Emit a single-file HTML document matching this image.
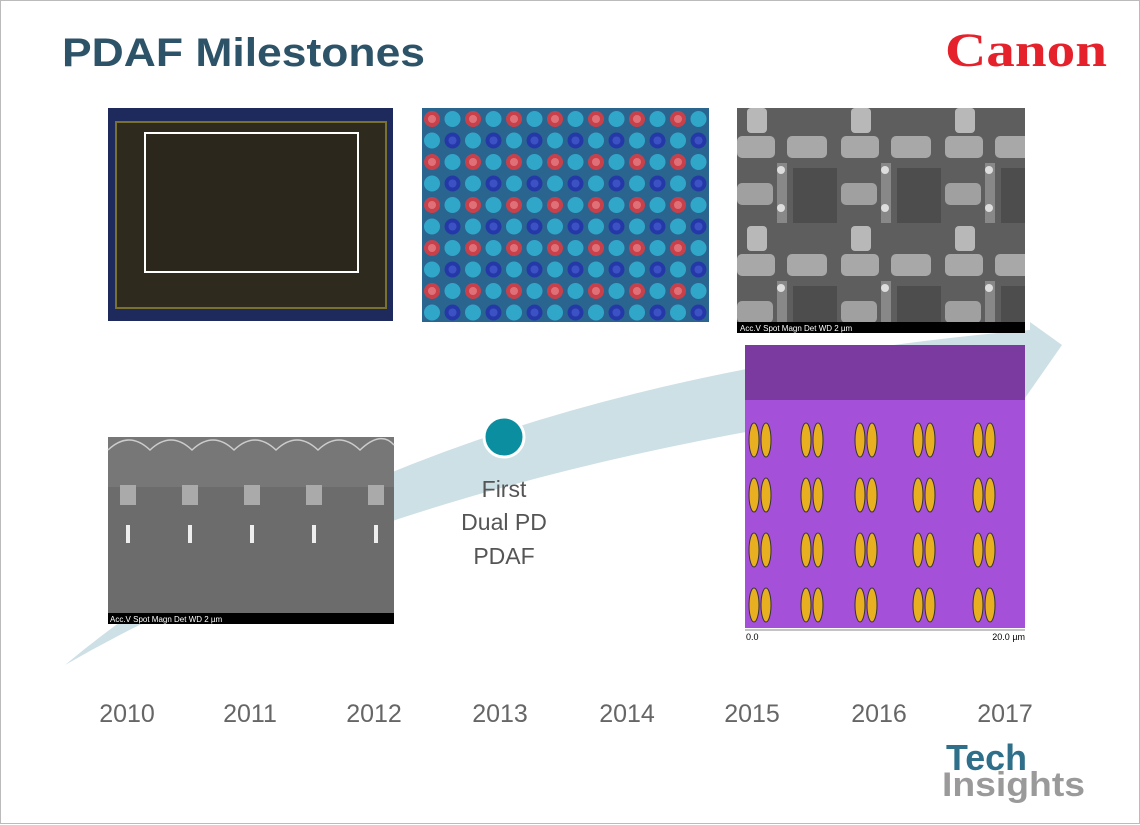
<!DOCTYPE html>
<html><head><meta charset="utf-8">
<style>
html,body{margin:0;padding:0;background:#fff;}
svg{display:block;font-family:"Liberation Sans",sans-serif;}
</style></head>
<body>
<svg id="s" width="1140" height="825" viewBox="0 0 1140 825">
<defs>
<pattern id="bayer" x="422" y="108" width="41" height="43" patternUnits="userSpaceOnUse">
<rect width="41" height="43" fill="#2a6590"/>
<circle cx="10" cy="11" r="8" fill="#c8404a"/><circle cx="10" cy="11" r="4" fill="#e07078"/>
<circle cx="30.5" cy="11" r="8" fill="#30a6c8"/>
<circle cx="10" cy="32.5" r="8" fill="#30a6c8"/>
<circle cx="30.5" cy="32.5" r="8" fill="#2538a8"/><circle cx="30.5" cy="32.5" r="4" fill="#3c52c4"/>
</pattern>
<pattern id="sem" x="737" y="108" width="104" height="118" patternUnits="userSpaceOnUse">
<rect width="104" height="118" fill="#5e5e5e"/>
<rect x="10" y="0" width="20" height="25" rx="4" fill="#b8b8b8"/>
<rect x="0" y="28" width="38" height="22" rx="5" fill="#a8a8a8"/>
<rect x="50" y="28" width="40" height="22" rx="5" fill="#a8a8a8"/>
<rect x="40" y="55" width="10" height="60" fill="#888"/>
<rect x="0" y="75" width="36" height="22" rx="5" fill="#a0a0a0"/>
<circle cx="44" cy="62" r="4" fill="#ddd"/><circle cx="44" cy="100" r="4" fill="#ddd"/>
<rect x="56" y="60" width="44" height="55" fill="#4d4d4d"/>
</pattern>
</defs>
<rect x="0.5" y="0.5" width="1139" height="823" fill="#fff" stroke="#bbb"/>
<text x="62" y="66" font-size="40" font-weight="bold" fill="#2c5368" textLength="363" lengthAdjust="spacingAndGlyphs">PDAF Milestones</text>
<text x="945" y="66" font-size="48" font-weight="bold" fill="#e5222b" font-family="Liberation Serif,serif" textLength="162" lengthAdjust="spacingAndGlyphs">Canon</text>

<path d="M65,665 Q400,385 1030,330 L1030,322 L1062,345 L1025,398 L1025,392 Q430,455 65,665 Z" fill="#cde0e5"/>

<g>
<rect x="108" y="108" width="285" height="213" fill="#1f2a5c"/>
<rect x="116" y="122" width="270" height="186" fill="#2e2a1e" stroke="#7a7030" stroke-width="2"/>
<rect x="145" y="133" width="213" height="139" fill="#2b271c" stroke="#fff" stroke-width="2"/>
</g>
<rect x="422" y="108" width="287" height="214" fill="url(#bayer)"/>
<g>
<rect x="737" y="108" width="288" height="214" fill="url(#sem)"/>
<rect x="737" y="322" width="288" height="11" fill="#000"/>
<text x="740" y="331" font-size="8" fill="#fff">Acc.V   Spot  Magn   Det   WD          2 µm</text>
</g>
<g>
<rect x="108" y="437" width="286" height="176" fill="#6c6c6c"/>
<rect x="108" y="437" width="286" height="50" fill="#777"/>
<path d="M108,450 Q129,430 150,450 Q171,430 192,450 Q213,430 234,450 Q255,430 276,450 Q297,430 318,450 Q339,430 360,450 Q381,430 394,445" fill="none" stroke="#ccc" stroke-width="1.5"/>
<g id="cs"></g>
<rect x="108" y="613" width="286" height="11" fill="#000"/>
<text x="110" y="622" font-size="8" fill="#fff">Acc.V   Spot  Magn   Det   WD          2 µm</text>
</g>
<g>
<rect x="745" y="345" width="280" height="283" fill="#a450d8"/>
<rect x="745" y="345" width="280" height="55" fill="#7a3aa0"/>
<g id="blobs"></g>
<line x1="745" y1="630" x2="1025" y2="630" stroke="#888"/>
<text x="746" y="640" font-size="9" fill="#000">0.0</text>
<text x="1025" y="640" font-size="9" fill="#000" text-anchor="end">20.0 µm</text>
</g>

<circle cx="504" cy="437" r="20" fill="#0b8fa0" stroke="#fff" stroke-width="3"/>
<g font-size="23" fill="#555" text-anchor="middle">
<text x="504" y="497">First</text><text x="504" y="530">Dual PD</text><text x="504" y="564">PDAF</text>
</g>
<g id="years"></g>
<text x="946" y="770" font-size="36" font-weight="bold" fill="#2f6f8a" textLength="81" lengthAdjust="spacingAndGlyphs">Tech</text>
<text x="942" y="796" font-size="34" font-weight="bold" fill="#9a9a9a" textLength="143" lengthAdjust="spacingAndGlyphs">Insights</text>
</svg>
<script>
const years = ["2010","2011","2012","2013","2014","2015","2016","2017"];
const yearPos = [127,250,374,500,627,752,879,1005];
const NS = "http://www.w3.org/2000/svg";
const yg = document.getElementById("years");
years.forEach((y,i)=>{
  const t=document.createElementNS(NS,"text");
  t.setAttribute("x",yearPos[i]);t.setAttribute("y",722);
  t.setAttribute("font-size","25");t.setAttribute("fill","#666");t.setAttribute("text-anchor","middle");
  t.textContent=y;
  
  
  yg.appendChild(t);
});
const bg=document.getElementById("blobs");
[440,495,550,605].forEach(cy=>{
  [760,812,866,924,984].forEach(cx=>{
    [-6,6].forEach(dx=>{
      const e=document.createElementNS(NS,"ellipse");
      e.setAttribute("cx",cx+dx);e.setAttribute("cy",cy);e.setAttribute("rx",5);e.setAttribute("ry",17);
      e.setAttribute("fill","#e8b020");e.setAttribute("stroke","#333");
      bg.appendChild(e);
    });
  });
});
const cs=document.getElementById("cs");
[120,182,244,306,368].forEach(x=>{
  const r=document.createElementNS(NS,"rect");
  r.setAttribute("x",x);r.setAttribute("y",485);r.setAttribute("width",16);r.setAttribute("height",20);
  r.setAttribute("fill","#aaa");cs.appendChild(r);
  const p=document.createElementNS(NS,"rect");
  p.setAttribute("x",x+6);p.setAttribute("y",525);p.setAttribute("width",4);p.setAttribute("height",18);
  p.setAttribute("fill","#eee");cs.appendChild(p);
});
</script>
</body></html>
